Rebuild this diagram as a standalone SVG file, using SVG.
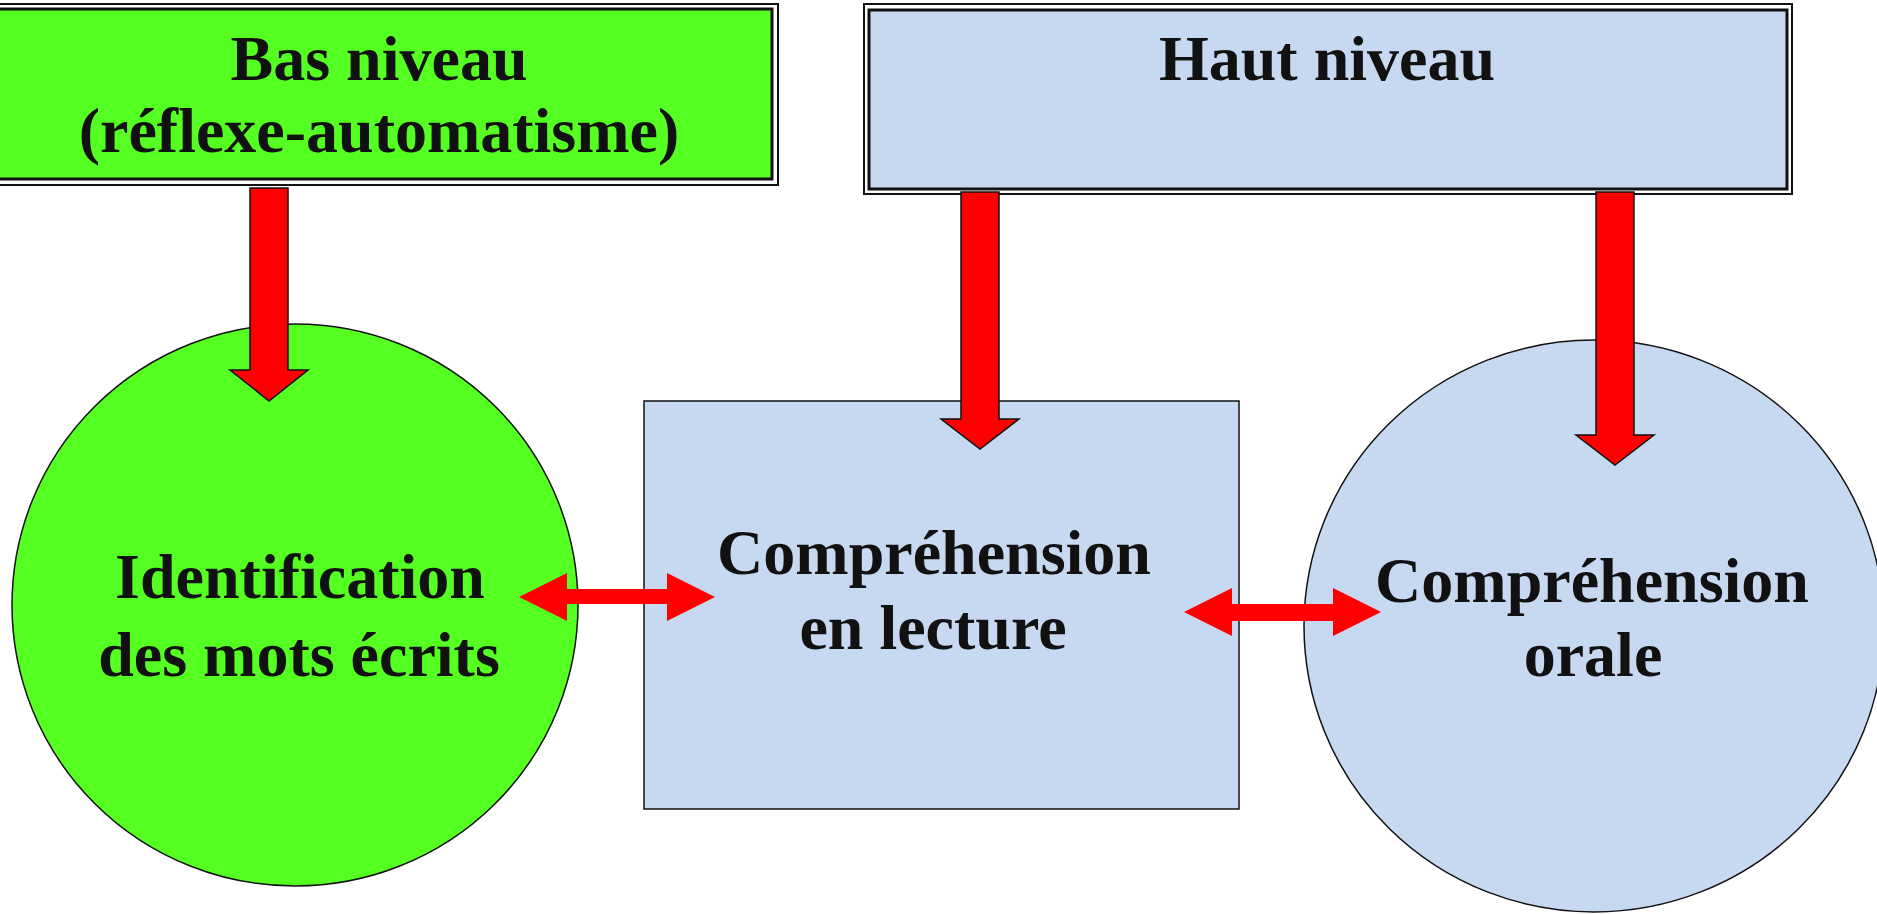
<svg xmlns="http://www.w3.org/2000/svg" width="1877" height="914" viewBox="0 0 1877 914">
<style>
.t{font-family:"Liberation Serif","Times New Roman",serif;font-weight:bold;font-size:64px;fill:#111;text-anchor:middle}
.outer{fill:none;stroke:#111;stroke-width:2}
.inner{stroke:#111;stroke-width:3}
.node{stroke:#111;stroke-width:1.5}
.down{fill:#ff0000;stroke:#111;stroke-width:1.5;stroke-linejoin:miter}
.dbl{fill:#ff0000;stroke:none}
</style>
<rect width="1877" height="914" fill="#fff"/>
<g id="bas-niveau">
<rect x="-4" y="4" width="782" height="181" class="outer"/>
<rect x="-4" y="9" width="776" height="170" fill="#55ff22" class="inner"/>
<text class="t" x="379" y="80">Bas niveau</text>
<text class="t" x="379" y="152">(réflexe-automatisme)</text>
</g>
<g id="haut-niveau">
<rect x="864" y="4" width="928" height="190" class="outer"/>
<rect x="869" y="10" width="918" height="179" fill="#c6d9f0" class="inner"/>
<text class="t" x="1327" y="80">Haut niveau</text>
</g>
<g id="identification">
<ellipse cx="295" cy="605" rx="283" ry="281" fill="#55ff22" class="node"/>
<text class="t" x="300" y="598">Identification</text>
<text class="t" x="299" y="676">des mots écrits</text>
</g>
<g id="comprehension-lecture">
<rect x="644" y="401" width="595" height="408" fill="#c6d9f0" class="node"/>
<text class="t" x="934" y="574">Compréhension</text>
<text class="t" x="933" y="649">en lecture</text>
</g>
<g id="comprehension-orale">
<ellipse cx="1594" cy="626" rx="290" ry="286" fill="#c6d9f0" class="node"/>
<text class="t" x="1592" y="602">Compréhension</text>
<text class="t" x="1593" y="676">orale</text>
</g>
<g id="connectors">
<polygon class="down" points="250,188 288,188 288,370 308,370 269,401 230,370 250,370"/>
<polygon class="down" points="961,192 999,192 999,419 1019,419 980,449 941,419 961,419"/>
<polygon class="down" points="1596,192 1634,192 1634,435 1654,435 1615,465 1576,435 1596,435"/>
<polygon class="dbl" points="519,597 567,573 567,589 667,589 667,573 715,597 667,621 667,604 567,604 567,621"/>
<polygon class="dbl" points="1184,612 1232,588 1232,604 1333,604 1333,588 1381,612 1333,636 1333,621 1232,621 1232,636"/>
</g>
</svg>
